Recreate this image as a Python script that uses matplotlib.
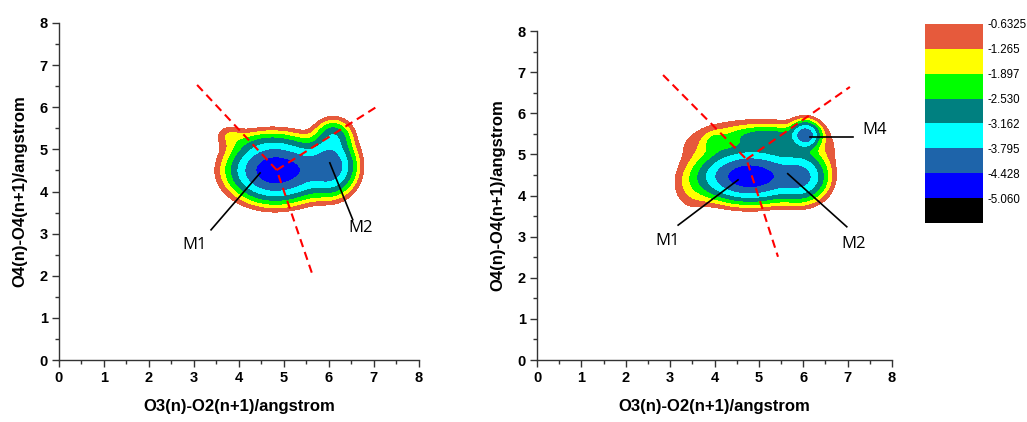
import numpy as np
import matplotlib
matplotlib.use("Agg")
import matplotlib.pyplot as plt
from matplotlib.ticker import MultipleLocator

plt.rcParams['font.family'] = ['Liberation Sans', 'DejaVu Sans']

# contour levels and fill colours (Origin style legend)
levels = [-5.6925, -5.060, -4.428, -3.795, -3.162, -2.530, -1.897, -1.265, -0.6325]
level_labels = ['-5.060', '-4.428', '-3.795', '-3.162', '-2.530', '-1.897', '-1.265', '-0.6325']
fill_colors = ['#000000', '#0000ff', '#1e64aa', '#00ffff', '#008080', '#00ff00', '#ffff00', '#e65a3c']

# basins of the free energy surface
# centre x, centre y, width x, width y, minimum value
left_cx = [4.80, 5.45, 6.02, 6.10, 4.60, 3.80]
left_cy = [4.50, 4.52, 4.60, 5.30, 5.15, 5.35]
left_sx = [0.46, 0.30, 0.28, 0.22, 0.50, 0.20]
left_sy = [0.34, 0.30, 0.33, 0.22, 0.18, 0.15]
left_fmin = [-4.85, -3.00, -4.30, -3.00, -1.80, -1.10]

right_cx = [4.80, 5.95, 6.05, 5.00, 5.20, 3.50, 4.00]
right_cy = [4.46, 4.45, 5.47, 5.20, 5.45, 4.10, 5.30]
right_sx = [0.54, 0.30, 0.17, 0.90, 0.45, 0.30, 0.15]
right_sy = [0.29, 0.30, 0.17, 0.35, 0.13, 0.35, 0.15]
right_fmin = [-4.85, -3.95, -4.25, -2.30, -2.55, -1.00, -1.60]

# dashed guide lines (x list, y list) and labels
left_dash = [([3.07, 4.84, 5.62], [6.53, 4.51, 2.07]), ([4.84, 7.09], [4.51, 6.03])]
right_dash = [([2.84, 4.72, 5.43], [6.93, 4.88, 2.51]), ([4.72, 7.05], [4.88, 6.64])]
left_notes = [('M1', (4.47, 4.44), (3.38, 3.09), (3.02, 2.73)),
              ('M2', (6.02, 4.68), (6.53, 3.33), (6.71, 3.13))]
right_notes = [('M1', (4.53, 4.38), (3.18, 3.28), (2.95, 2.90)),
               ('M2', (5.65, 4.53), (6.98, 3.24), (7.14, 2.82)),
               ('M4', (6.15, 5.43), (7.12, 5.43), (7.61, 5.60))]

xlabel = 'O3(n)-O2(n+1)/angstrom'
ylabel = 'O4(n)-O4(n+1)/angstrom'


def surface(cx, cy, sx, sy, fmin, gx, gy):
    terms = []
    for i in range(len(cx)):
        q = ((gx - cx[i]) / sx[i]) ** 2 + ((gy - cy[i]) / sy[i]) ** 2
        terms.append(-fmin[i] - 0.5 * q)
    terms = np.array(terms)
    m = terms.max(axis=0)
    return -(m + np.log(np.exp(terms - m).sum(axis=0)))


def draw_panel(ax, cx, cy, sx, sy, fmin, dashes, notes):
    g = np.linspace(0, 8, 500)
    gx, gy = np.meshgrid(g, g)
    f = surface(cx, cy, sx, sy, fmin, gx, gy)
    cs = ax.contourf(gx, gy, f, levels=levels, colors=fill_colors)
    for xs, ys in dashes:
        ax.plot(xs, ys, color='red', lw=1.5, ls=(0, (4, 2.5)))
    for txt, xy, xyline, xytext in notes:
        ax.plot([xy[0], xyline[0]], [xy[1], xyline[1]], color='black', lw=1.2)
        ax.text(xytext[0], xytext[1], txt, family='Open Sans', fontsize=12,
                ha='center', va='center')
    ax.set_xlim(0, 8)
    ax.set_ylim(0, 8)
    ax.spines['top'].set_visible(False)
    ax.spines['right'].set_visible(False)
    for s in ['left', 'bottom']:
        ax.spines[s].set_linewidth(1.0)
        ax.spines[s].set_color('#333333')
    ax.xaxis.set_major_locator(MultipleLocator(1))
    ax.yaxis.set_major_locator(MultipleLocator(1))
    ax.xaxis.set_minor_locator(MultipleLocator(0.5))
    ax.yaxis.set_minor_locator(MultipleLocator(0.5))
    ax.tick_params(which='major', length=5, width=1, pad=3, labelsize=10.5, color='#333333')
    ax.tick_params(which='minor', length=3, width=1, color='#333333')
    for lab in ax.get_xticklabels() + ax.get_yticklabels():
        lab.set_fontweight('bold')
    ax.set_xlabel(xlabel, fontsize=12, fontweight='bold', labelpad=10)
    ax.set_ylabel(ylabel, fontsize=12, fontweight='bold', labelpad=9)
    return cs


fig = plt.figure(figsize=(10.27, 4.22), dpi=100)
ax1 = fig.add_axes([0.0574, 0.1469, 0.3505, 0.7986])
ax2 = fig.add_axes([0.5229, 0.1469, 0.3457, 0.7796])

cs = draw_panel(ax1, left_cx, left_cy, left_sx, left_sy, left_fmin, left_dash, left_notes)
draw_panel(ax2, right_cx, right_cy, right_sx, right_sy, right_fmin, right_dash, right_notes)

cax = fig.add_axes([0.9007, 0.4716, 0.0565, 0.4716])
cb = fig.colorbar(cs, cax=cax, ticks=levels[1:])
cb.ax.set_yticklabels(level_labels)
cb.ax.tick_params(length=0, labelsize=8.3, pad=3)
cb.outline.set_visible(False)

fig.savefig('out.png', dpi=100)
